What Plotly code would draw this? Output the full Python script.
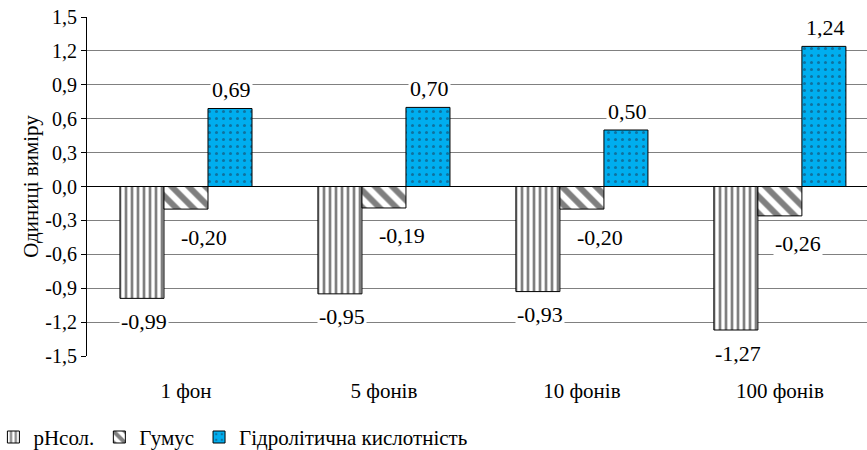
import plotly.graph_objects as go

categories = ["1 фон", "5 фонів", "10 фонів", "100 фонів"]
ph_values = [-0.99, -0.95, -0.93, -1.27]
humus_values = [-0.20, -0.19, -0.20, -0.26]
hydro_values = [0.69, 0.70, 0.50, 1.24]
series_names = ["рНсол.", "Гумус", "Гідролітична кислотність"]
y_ticks = [-1.5, -1.2, -0.9, -0.6, -0.3, 0.0, 0.3, 0.6, 0.9, 1.2, 1.5]

FONT = "Liberation Serif"
BLUE = "#00AEEF"

def fmt(v):
    return f"{v:.2f}".replace(".", ",")

fig = go.Figure()
fig.add_trace(go.Bar(
    x=categories, y=ph_values, name=series_names[0],
    marker=dict(color="white", line=dict(color="black", width=1),
                pattern=dict(shape="|", fgcolor="black", bgcolor="white",
                             size=6, solidity=0.45)),
))
fig.add_trace(go.Bar(
    x=categories, y=humus_values, name=series_names[1],
    marker=dict(color="white", line=dict(color="black", width=1),
                pattern=dict(shape="\\", fgcolor="black", bgcolor="white",
                             size=12, solidity=0.5)),
))
fig.add_trace(go.Bar(
    x=categories, y=hydro_values, name=series_names[2],
    marker=dict(color=BLUE, line=dict(color="black", width=1),
                pattern=dict(shape=".", fgcolor="#1b3550", bgcolor=BLUE,
                             size=7, solidity=0.15)),
))

# value labels with white boxes over the gridlines
annotations = []
for i in range(len(categories)):
    for vals, dx, shift in ((ph_values, -0.21, -23),
                            (humus_values, 0.09, -28),
                            (hydro_values, 0.23, 19)):
        annotations.append(dict(
            x=i + dx, y=vals[i], xref="x", yref="y", text=fmt(vals[i]),
            showarrow=False, yshift=shift, bgcolor="white",
            font=dict(family=FONT, size=22, color="black"),
            borderpad=1,
        ))

fig.update_layout(
    width=867, height=450,
    margin=dict(l=87, r=0, t=17, b=94, autoexpand=False),
    paper_bgcolor="white", plot_bgcolor="white",
    barmode="group", bargap=0.333, bargroupgap=0,
    font=dict(family=FONT, size=20, color="black"),
    annotations=annotations,
    showlegend=True,
    legend=dict(orientation="h", x=-0.12, xanchor="left", y=-0.24, yanchor="middle",
                font=dict(family=FONT, size=21, color="black"),
                itemwidth=30, traceorder="normal"),
    xaxis=dict(
        range=[-0.5, 3.44], showgrid=False, ticks="", showline=False,
        tickfont=dict(family=FONT, size=21), ticklabelstandoff=20,
    ),
    yaxis=dict(
        range=[-1.5, 1.5], tickvals=y_ticks,
        ticktext=[f"{t:.1f}".replace(".", ",") for t in y_ticks],
        showgrid=True, gridcolor="#808080", gridwidth=1,
        zeroline=True, zerolinecolor="black", zerolinewidth=1,
        showline=True, linecolor="black", linewidth=1,
        ticks="outside", ticklen=5, tickcolor="black",
        tickfont=dict(family=FONT, size=20),
        title=dict(text="Одиниці виміру", font=dict(family=FONT, size=21), standoff=0),
    ),
)

fig.write_html("out.html")
